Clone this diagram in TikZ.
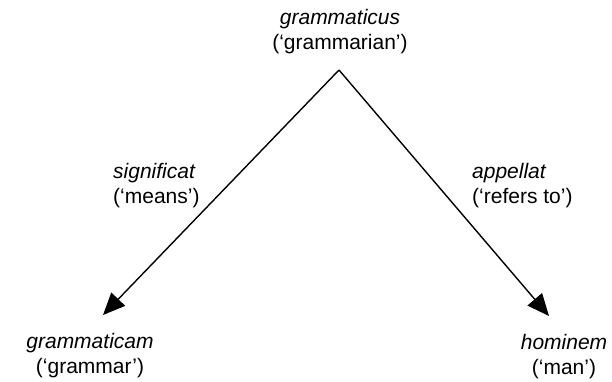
\documentclass[tikz,border=0pt]{standalone}
\usepackage{fontspec}
\setmainfont{Liberation Sans}
\usetikzlibrary{arrows.meta}
\begin{document}
\begin{tikzpicture}[x=1pt,y=1pt,
  lbl/.style={inner sep=0pt,font=\fontsize{21}{25}\selectfont},
  term/.style={lbl,font=\fontsize{21}{25}\selectfont\itshape},
  rel/.style={line width=1.4pt,-{Triangle[length=22pt,width=19pt]}}]
  \useasboundingbox (0,0) rectangle (612,381);
  % top term
  \node[term,anchor=base] (topw) at (340,356) {grammaticus};
  \node[lbl,anchor=base]  (topg) at (340,331) {(‘grammarian’)};
  % relation labels
  \node[term,anchor=base west] (sigw) at (113,203) {significat};
  \node[lbl,anchor=base west]  (sigg) at (113,178) {(‘means’)};
  \node[term,anchor=base west] (appw) at (472,203) {appellat};
  \node[lbl,anchor=base west]  (appg) at (472,178) {(‘refers to’)};
  % bottom terms
  \node[term,anchor=base] (leftw) at (90,33) {grammaticam};
  \node[lbl,anchor=base]  (leftg) at (90,8) {(‘grammar’)};
  \node[term,anchor=base] (rightw) at (564,32) {hominem};
  \node[lbl,anchor=base]  (rightg) at (564,7) {(‘man’)};
  % arrows
  \coordinate (apex) at (339,311);
  \coordinate (ltip) at (103,66);
  \coordinate (rtip) at (549,65);
  \draw[rel] (apex) -- (ltip);
  \draw[rel] (apex) -- (rtip);
\end{tikzpicture}
\end{document}
